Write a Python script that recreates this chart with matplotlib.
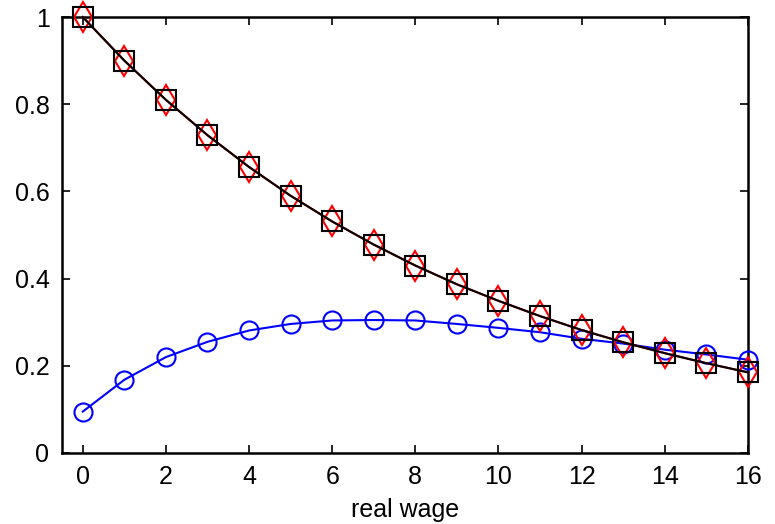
import matplotlib
matplotlib.use("Agg")
import matplotlib.pyplot as plt

wage = list(range(17))
series_a = [1.0, 0.9, 0.81, 0.729, 0.656, 0.59, 0.531, 0.478, 0.43, 0.387,
            0.349, 0.314, 0.282, 0.254, 0.229, 0.206, 0.185]
series_b = [0.095, 0.168, 0.220, 0.255, 0.281, 0.296, 0.304, 0.305, 0.304,
            0.296, 0.287, 0.277, 0.262, 0.251, 0.237, 0.226, 0.214]
xticks = [0, 2, 4, 6, 8, 10, 12, 14, 16]
yticks = [0, 0.2, 0.4, 0.6, 0.8, 1]
yticklabels = ["0", "0.2", "0.4", "0.6", "0.8", "1"]

plt.rcParams['font.family'] = ['Liberation Sans', 'DejaVu Sans']
fig = plt.figure(figsize=(7.75, 5.24), dpi=100)
ax = fig.add_axes([0.08, 0.1355, 0.885, 0.832])

ax.plot(wage, series_b, color='#0000ff', lw=1.5, marker='o', ms=13,
        mfc='none', mec='#0000ff', mew=1.5, clip_on=False, zorder=3)
ax.plot(wage, series_a, color='#ff0000', lw=1.5, marker='d', ms=15,
        mfc='none', mec='#ff0000', mew=1.5, clip_on=False, zorder=3)
ax.plot(wage, series_a, color='#000000', lw=1.5, marker='s', ms=14.5,
        mfc='none', mec='#000000', mew=1.5, clip_on=False, zorder=3)

ax.set_xlim(-0.5, 16)
ax.set_ylim(0, 1)
ax.set_xticks(xticks)
ax.set_yticks(yticks)
ax.set_yticklabels(yticklabels)
ax.tick_params(direction='in', top=True, right=True, length=6, width=1.2,
               labelsize=18, pad=9)
for s in ax.spines.values():
    s.set_linewidth(1.8)
ax.set_xlabel('real wage', fontsize=18, labelpad=6)

fig.savefig('out.png', dpi=100)
